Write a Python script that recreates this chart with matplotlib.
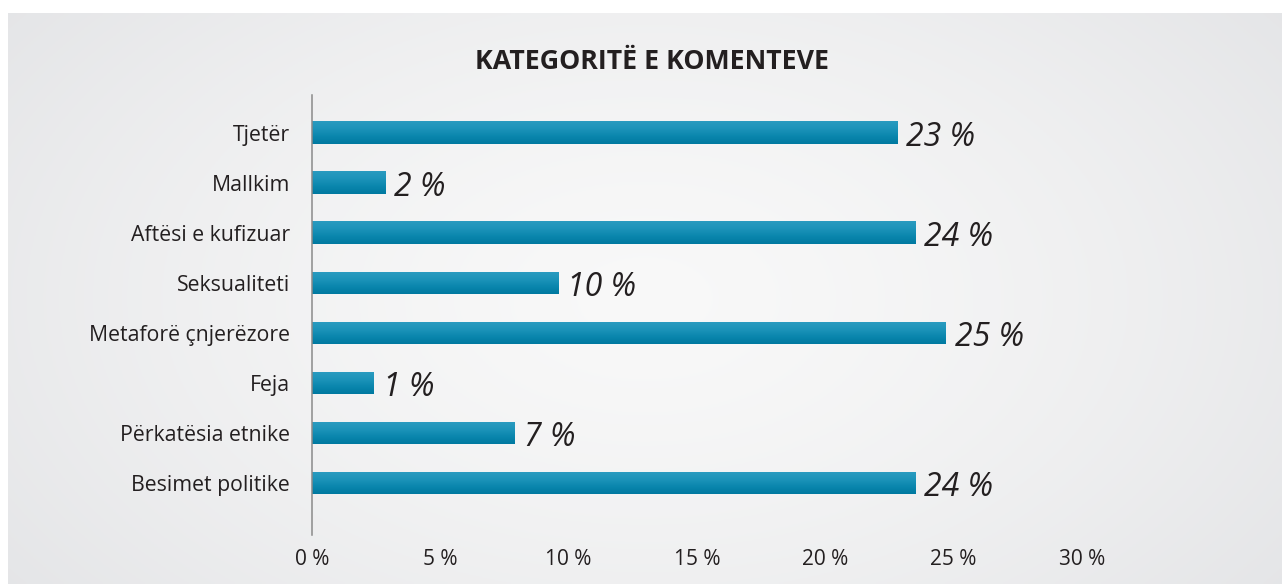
import numpy as np
import matplotlib
matplotlib.use("Agg")
import matplotlib.pyplot as plt
from matplotlib.colors import LinearSegmentedColormap

# ---- data ----
categories = ["Besimet politike", "Përkatësia etnike", "Feja", "Metaforë çnjerëzore",
              "Seksualiteti", "Aftësi e kufizuar", "Mallkim", "Tjetër"]
bar_values = [23.5, 7.9, 2.4, 24.7, 9.6, 23.5, 2.85, 22.8]
value_labels = ["24 %", "7 %", "1 %", "25 %", "10 %", "24 %", "2 %", "23 %"]
xticks = [0, 5, 10, 15, 20, 25, 30]
xtick_labels = ["0 %", "5 %", "10 %", "15 %", "20 %", "25 %", "30 %"]
title = "KATEGORITË E KOMENTEVE"

W, H = 1282, 584
fig = plt.figure(figsize=(W / 100, H / 100), dpi=100, facecolor="white")

# ---- background panel with radial gradient ----
bg = fig.add_axes([8 / W, 0, (W - 8) / W, (H - 13) / H])
bg.set_axis_off()
ny, nx = 200, 400
yy, xx = np.mgrid[0:1:ny * 1j, 0:1:nx * 1j]
r = np.sqrt(((xx - 0.5) / 0.62) ** 2 + ((yy - 0.5) / 0.85) ** 2)
r = np.clip(r, 0, 1)
c0 = np.array([0.975, 0.975, 0.975])
c1 = np.array([0.897, 0.900, 0.908])
img = c0[None, None, :] * (1 - r[..., None] ** 1.4) + c1[None, None, :] * (r[..., None] ** 1.4)
bg.imshow(img, extent=[0, 1, 0, 1], aspect="auto", origin="lower")
bg.set_xlim(0, 1)
bg.set_ylim(0, 1)

# ---- main axes ----
ax_left, ax_right = 312, 1082
ax_top, ax_bot = 95, 535
ax = fig.add_axes([ax_left / W, (H - ax_bot) / H, (ax_right - ax_left) / W, (ax_bot - ax_top) / H])
ax.set_facecolor("none")

ypos = np.arange(len(categories))
bh = 0.44
cmap = LinearSegmentedColormap.from_list("barg", ["#0079a0", "#0a86ad", "#1c93b9", "#2a9bc0"])
grad = np.linspace(0, 1, 64).reshape(-1, 1)
bars = ax.barh(ypos, bar_values, height=bh, color="#1189b2", edgecolor="none", zorder=2)
for b in bars:
    x0, y0 = b.get_x(), b.get_y()
    w, h = b.get_width(), b.get_height()
    ax.imshow(grad, extent=[x0, x0 + w, y0, y0 + h], origin="lower", cmap=cmap,
              aspect="auto", zorder=3, interpolation="bilinear")
ax.set_xlim(0, 30)
ax.set_ylim(-1.04, 7.76)

txt = "#231f20"
for y, v, lab in zip(ypos, bar_values, value_labels):
    ax.annotate(lab, (v, y), xytext=(6.5, 0), textcoords="offset points",
                ha="left", va="center_baseline", fontsize=23, style="italic",
                family="Open Sans", color=txt, zorder=4)

ax.set_yticks(ypos)
ax.set_yticklabels(categories, family="Open Sans", fontsize=15.3, color=txt)
ax.set_xticks(xticks)
ax.set_xticklabels(xtick_labels, family="Open Sans", fontsize=15, color=txt)
ax.tick_params(axis="y", length=0, pad=16)
ax.tick_params(axis="x", length=0, pad=10)
for s in ["top", "right", "bottom"]:
    ax.spines[s].set_visible(False)
ax.spines["left"].set_color("#8a8a8a")
ax.spines["left"].set_linewidth(1.1)
ax.spines["left"].set_zorder(5)

fig.text(652 / W, 1 - 62 / H, title, ha="center", va="center", fontsize=19.3,
         fontweight="bold", family="Open Sans", color=txt)

fig.savefig("out.png", dpi=100, facecolor="white")
